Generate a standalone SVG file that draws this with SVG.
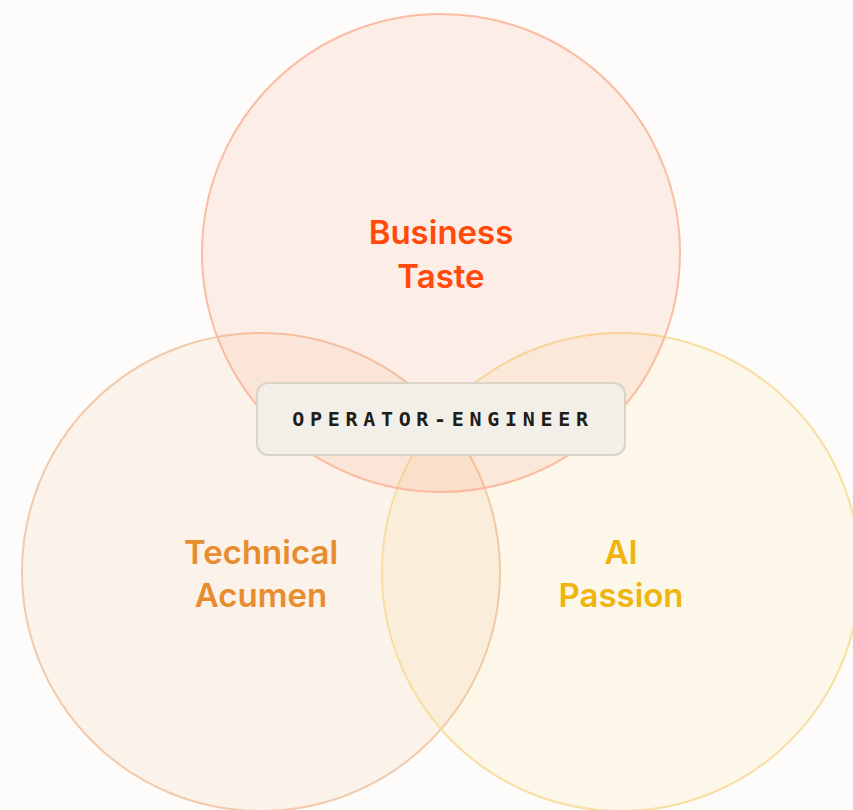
<svg xmlns="http://www.w3.org/2000/svg" width="853" height="810" viewBox="0 0 853 810">
  <style>
    .lbl { font-family: Inter, "Noto Sans", "Liberation Sans", sans-serif; font-size: 33px; font-weight: 600; text-anchor: middle; }
    .mono { font-family: "DejaVu Sans Mono", "Liberation Mono", monospace; font-size: 20px; font-weight: bold; letter-spacing: 5.7px; fill: #1f1d1a; text-anchor: middle; }
  </style>
  <rect width="853" height="810" fill="#fdfcfa"/>
  <g id="technical">
    <circle cx="261" cy="572" r="239" fill="#f0a060" fill-opacity="0.11" stroke="#f2caab" stroke-width="2"/>
    <text class="lbl" x="261" y="564" fill="#e88c30">Technical</text>
    <text class="lbl" x="261" y="607" fill="#e88c30">Acumen</text>
  </g>
  <g id="ai">
    <circle cx="621" cy="572" r="239" fill="#f5d060" fill-opacity="0.11" stroke="#f7dfa0" stroke-width="2"/>
    <text class="lbl" x="621" y="564" fill="#f0b40f">AI</text>
    <text class="lbl" x="621" y="607" fill="#f0b40f">Passion</text>
  </g>
  <g id="business">
    <circle cx="441" cy="253" r="239" fill="#ff7a50" fill-opacity="0.11" stroke="#fbb69a" stroke-opacity="0.9" stroke-width="2"/>
    <text class="lbl" x="441" y="244" fill="#ff4a0a">Business</text>
    <text class="lbl" x="441" y="288" fill="#ff4a0a">Taste</text>
  </g>
  <g id="operator-engineer">
    <rect x="257" y="383" width="368" height="72" rx="11" fill="#f2efe8" stroke="#d9d3c8" stroke-width="2"/>
    <text class="mono" x="443" y="426">OPERATOR-ENGINEER</text>
  </g>
</svg>
